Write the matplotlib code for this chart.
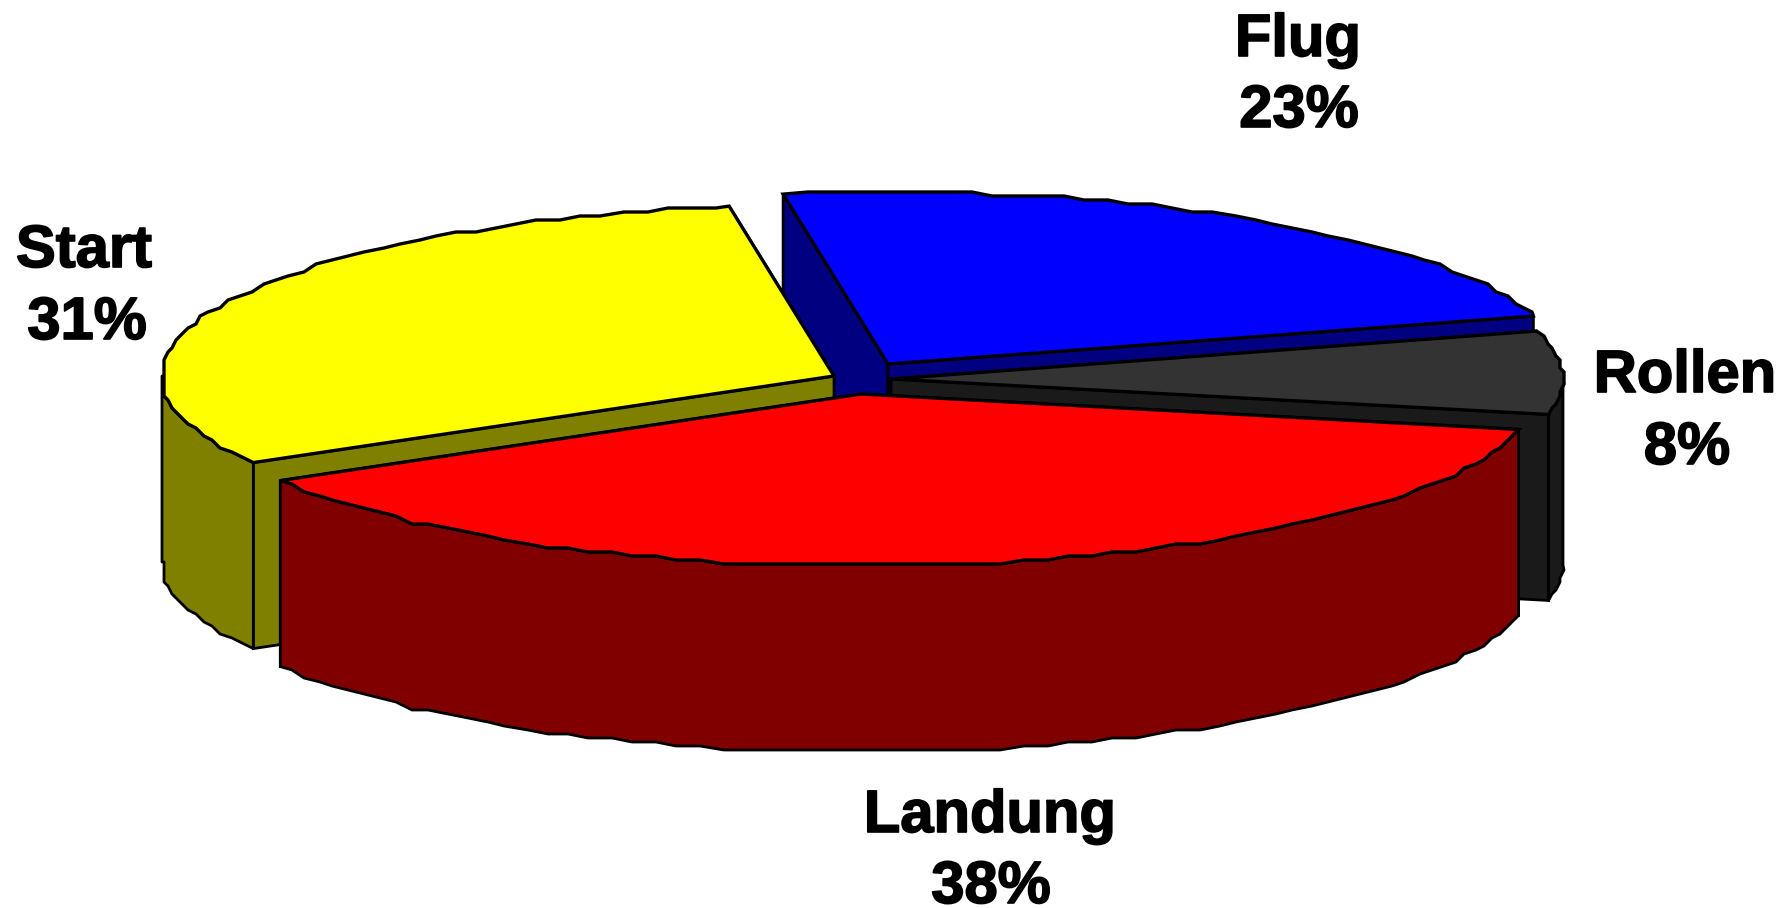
#!/usr/bin/env python
# 3D looking exploded pie, drawn by hand since matplotlib pie has no depth

import numpy as np
import matplotlib
matplotlib.use('Agg')
import matplotlib.pyplot as plt
import matplotlib.patheffects as pe
from matplotlib.patches import Polygon

categories = ['Landung', 'Start', 'Flug', 'Rollen']
shares = [38.3, 30.9, 23.0, 7.8]   # labels round them
top_colors = ['#ff0000', '#ffff00', '#0000ff', '#333333']
side_colors = ['#800000', '#808000', '#000080', '#1a1a1a']

# slice apex on the top face, in image pixels
apex = [(861, 394), (834, 376), (888, 364), (891, 379)]
label_pos = [(990, 832), (84, 267), (1298, 56), (1685, 392)]
pct_pos = [(991, 903), (87, 339), (1299, 127), (1687, 464)]

A = 672
B = 172
H = 186
START_ANGLE = 11.9
GRID = 4
draw_order = [2, 3, 1, 0]

def arc(center, t0, t1):
  # rough polygon edge, as the original chart has
  ts = np.arange(t0, t1, 2.0)
  pts = []
  for t in ts:
    x = center[0] + A * np.cos(np.radians(t))
    y = center[1] + B * np.sin(np.radians(t))
    pts.append((GRID * round(x / GRID), GRID * round(y / GRID)))
  pts[0] = (center[0] + A * np.cos(np.radians(t0)), center[1] + B * np.sin(np.radians(t0)))
  pts.append((center[0] + A * np.cos(np.radians(t1)), center[1] + B * np.sin(np.radians(t1))))
  return pts

def down(pts):
  return [(x, y + H) for x, y in pts]

def draw_slice(ax, center, t0, t1, top, side):
  # the cut faces, back one first
  faces = sorted([t0, t1], key=lambda t: np.sin(np.radians(t)))
  for t in faces:
    edge = [center, (center[0] + A * np.cos(np.radians(t)), center[1] + B * np.sin(np.radians(t)))]
    ax.add_patch(Polygon(edge + down(edge)[::-1], closed=True, fc=side, ec='black', lw=2, joinstyle='miter'))
  # outer wall, only the front half can be seen
  for k in [0, 360]:
    lo = max(t0, k)
    hi = min(t1, k + 180)
    if lo < hi:
      rim = arc(center, lo, hi)
      ax.add_patch(Polygon(rim + down(rim)[::-1], closed=True, fc=side, ec='black', lw=2, joinstyle='round'))
  ax.add_patch(Polygon([center] + arc(center, t0, t1), closed=True, fc=top, ec='black', lw=2.4, joinstyle='miter'))

fig = plt.figure(figsize=(17.76, 9.08), dpi=100)
ax = fig.add_axes([0, 0, 1, 1])
ax.set_xlim(0, 1776)
ax.set_ylim(908, 0)
ax.axis('off')

edges = START_ANGLE + np.cumsum([0] + shares) * 3.6
for i in draw_order:
  draw_slice(ax, apex[i], edges[i], edges[i + 1], top_colors[i], side_colors[i])

stroke = [pe.withStroke(linewidth=1.2, foreground='black')]
for i in range(len(categories)):
  for txt, pos in [(categories[i], label_pos[i]), ('%d%%' % round(shares[i]), pct_pos[i])]:
    ax.text(pos[0], pos[1], txt, ha='center', va='baseline', family='Liberation Sans',
            fontweight='bold', fontsize=43, color='black', path_effects=stroke)

fig.savefig('out.png', dpi=100)
